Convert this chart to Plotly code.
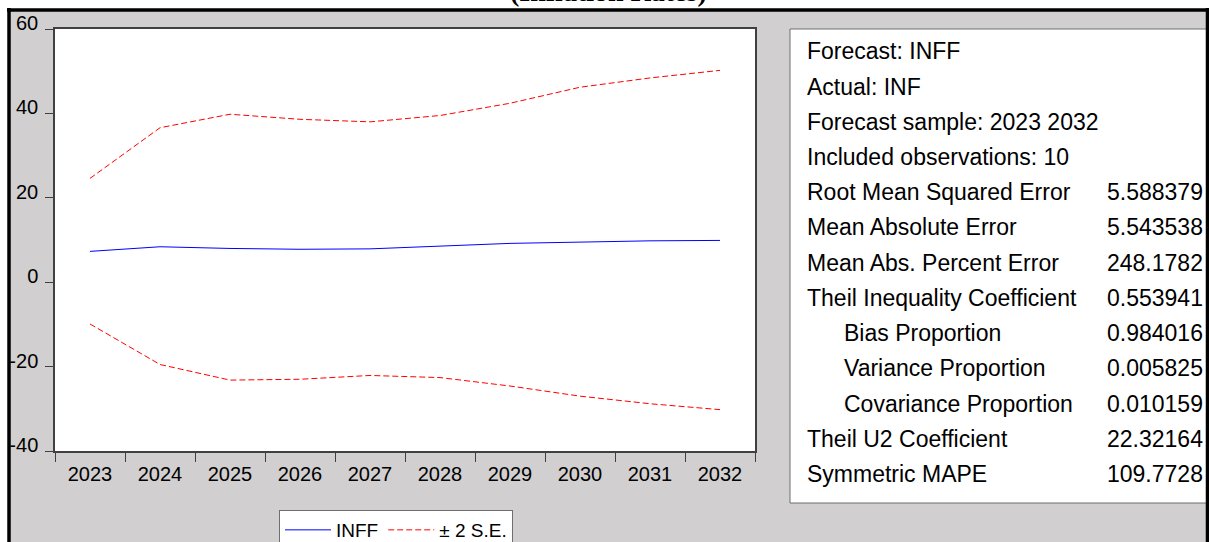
import plotly.graph_objects as go

W, H = 1209, 542

years = ["2023", "2024", "2025", "2026", "2027", "2028", "2029", "2030", "2031", "2032"]
inff = [7.3, 8.4, 8.0, 7.8, 7.9, 8.5, 9.2, 9.5, 9.8, 9.9]
upper_2se = [24.6, 36.6, 39.8, 38.6, 38.0, 39.5, 42.4, 46.2, 48.4, 50.2]
lower_2se = [-9.9, -19.5, -23.2, -23.0, -22.1, -22.6, -24.6, -27.0, -28.8, -30.2]

y_tick_vals = [-40, -20, 0, 20, 40, 60]
y_tick_text = ["-40", "-20", "0", "20", "40", "60"]

stat_labels = [
    "Forecast: INFF",
    "Actual: INF",
    "Forecast sample: 2023 2032",
    "Included observations: 10",
    "Root Mean Squared Error",
    "Mean Absolute Error",
    "Mean Abs. Percent Error",
    "Theil Inequality Coefficient",
    "Bias Proportion",
    "Variance Proportion",
    "Covariance Proportion",
    "Theil U2 Coefficient",
    "Symmetric MAPE",
]
stat_values = ["", "", "", "", "5.588379", "5.543538", "248.1782", "0.553941",
               "0.984016", "0.005825", "0.010159", "22.32164", "109.7728"]
stat_indent = [False] * 8 + [True, True, True] + [False, False]

FONT = "Arial, 'Liberation Sans', sans-serif"
GRAY = "#D1CFCF"


def px(x):
    return x / W


def py(y):
    return 1 - y / H


fig = go.Figure()
fig.add_trace(go.Scatter(x=years, y=inff, mode="lines", name="INFF",
                         line=dict(color="#0000FF", width=1)))
fig.add_trace(go.Scatter(x=years, y=upper_2se, mode="lines", name="\u00b1 2 S.E.",
                         legendgroup="se",
                         line=dict(color="#FF0000", width=1, dash="6px,3px")))
fig.add_trace(go.Scatter(x=years, y=lower_2se, mode="lines", name="\u00b1 2 S.E.",
                         legendgroup="se", showlegend=False,
                         line=dict(color="#FF0000", width=1, dash="6px,3px")))

shapes = [
    # white strips outside the black frame
    dict(type="rect", xref="paper", yref="paper", x0=0, x1=1, y0=py(9), y1=1,
         fillcolor="white", line_width=0, layer="below"),
    dict(type="rect", xref="paper", yref="paper", x0=0, x1=px(8), y0=0, y1=1,
         fillcolor="white", line_width=0, layer="below"),
    # right statistics panel
    dict(type="rect", xref="paper", yref="paper", x0=px(790), x1=px(1212),
         y0=py(503), y1=py(29), fillcolor="white",
         line=dict(color="#6f6f6f", width=1), layer="below"),
    # black outer frame
    dict(type="line", xref="paper", yref="paper", x0=px(7), x1=1, y0=py(10), y1=py(10),
         line=dict(color="black", width=3.5), layer="above"),
    dict(type="line", xref="paper", yref="paper", x0=px(9), x1=px(9), y0=0, y1=py(8),
         line=dict(color="black", width=3.5), layer="above"),
    dict(type="line", xref="paper", yref="paper", x0=px(1207.5), x1=px(1207.5), y0=0, y1=py(8),
         line=dict(color="black", width=3.5), layer="above"),
]

annotations = [
    dict(text="<b>(Inflation Rates)</b>", xref="paper", yref="paper",
         x=px(608), y=py(-8), xanchor="center", yanchor="middle", showarrow=False,
         font=dict(family="'Times New Roman', 'Liberation Serif', serif", size=28, color="black")),
]

for i, (lab, val, ind) in enumerate(zip(stat_labels, stat_values, stat_indent)):
    yc = 51.5 + 35.2 * i
    annotations.append(dict(text=lab, xref="paper", yref="paper",
                            x=px(842 if ind else 805), y=py(yc), xanchor="left", yanchor="middle",
                            showarrow=False, font=dict(family=FONT, size=23, color="black")))
    if val:
        annotations.append(dict(text=val, xref="paper", yref="paper",
                                x=px(1205), y=py(yc), xanchor="right", yanchor="middle",
                                showarrow=False, font=dict(family=FONT, size=23, color="black")))

fig.update_layout(
    width=W, height=H,
    margin=dict(l=0, r=0, t=0, b=0, autoexpand=False),
    paper_bgcolor=GRAY,
    plot_bgcolor="white",
    font=dict(family=FONT, size=20, color="black"),
    showlegend=True,
    legend=dict(x=px(279), y=py(510), xanchor="left", yanchor="top",
                orientation="h", bgcolor="white", bordercolor="#6f6f6f", borderwidth=1,
                itemwidth=46,
                font=dict(family=FONT, size=19, color="black"), traceorder="normal"),
    xaxis=dict(domain=[px(55), px(755)], type="category", tickson="boundaries",
               range=[-0.5, 9.5],
               ticks="outside", ticklen=9, tickcolor="#404040", tickwidth=1,
               showline=True, linecolor="#404040", linewidth=1.5, mirror=True,
               showgrid=False, zeroline=False, automargin=False,
               ticklabelstandoff=4, tickfont=dict(size=20)),
    yaxis=dict(domain=[py(451), py(29)], range=[-40, 60],
               tickmode="array", tickvals=y_tick_vals, ticktext=y_tick_text,
               ticks="outside", ticklen=8, tickcolor="#404040", tickwidth=1,
               showline=True, linecolor="#404040", linewidth=1.5, mirror=True,
               showgrid=False, zeroline=False, automargin=False,
               ticklabelshift=-6, ticklabelstandoff=3,
               tickfont=dict(size=20)),
    shapes=shapes,
    annotations=annotations,
)

fig.write_html("out.html", config={"displayModeBar": False},
               post_script="document.body.style.margin='0';")
